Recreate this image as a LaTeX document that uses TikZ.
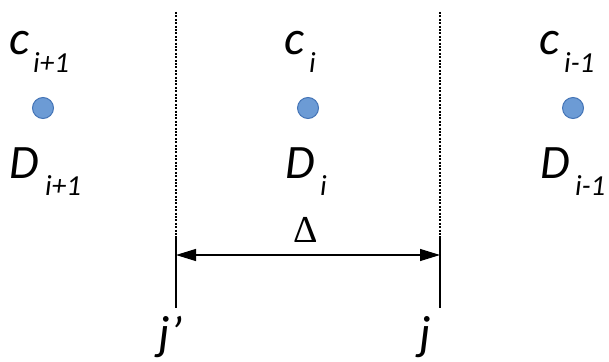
\documentclass[tikz,border=0pt]{standalone}
\usepackage{fontspec}
\setmainfont{Carlito}
\newfontfamily\deltafont{Liberation Serif}
\usetikzlibrary{arrows.meta}
\definecolor{dotfill}{RGB}{108,155,213}
\definecolor{dotedge}{RGB}{68,116,182}
\tikzset{
  big/.style={inner sep=0pt, anchor=base west, font=\fontsize{48}{48}\selectfont\itshape},
  sub/.style={inner sep=0pt, anchor=base west, font=\fontsize{29}{29}\selectfont\itshape},
  dotmark/.style={circle, fill=dotfill, draw=dotedge, line width=1pt, minimum size=21pt, inner sep=0pt},
  guide/.style={line width=1.1pt, dash pattern=on 2pt off 1.4pt},
  wall/.style={line width=1.1pt},
  span/.style={line width=1.2pt, {Triangle[length=20pt,width=12pt]}-{Triangle[length=20pt,width=12pt]}}
}
\begin{document}
\begin{tikzpicture}[x=1pt,y=-1pt]
\useasboundingbox (0,0) rectangle (609,361);
% left column
\node[big] (cL) at (9,54) {c};
\node[sub] (cLs) at (33,72) {i+1};
\node[dotmark] (dL) at (43,108) {};
\node[big] (DL) at (9,178) {D};
\node[sub] (DLs) at (45,195) {i+1};
% middle column
\node[big] (cM) at (284,54) {c};
\node[sub] (cMs) at (309,72) {i};
\node[dotmark] (dM) at (308,108) {};
\node[big] (DM) at (285,178) {D};
\node[sub] (DMs) at (320,195) {i};
% right column
\node[big] (cR) at (539,54) {c};
\node[sub] (cRs) at (564,72) {i-1};
\node[dotmark] (dR) at (573,108) {};
\node[big] (DR) at (540,178) {D};
\node[sub] (DRs) at (575,195) {i-1};
% vertical lines
\coordinate (aTop) at (176,12);
\coordinate (aMid) at (176,238);
\coordinate (aBot) at (176,308);
\coordinate (bTop) at (440,12);
\coordinate (bMid) at (440,238);
\coordinate (bBot) at (440,308);
\draw[guide] (aTop) -- (aMid);
\draw[wall] (aMid) -- (aBot);
\draw[guide] (bTop) -- (bMid);
\draw[wall] (bMid) -- (bBot);
% span arrow
\coordinate (sL) at (176,255);
\coordinate (sR) at (440,255);
\draw[span] (sL) -- (sR);
\node[inner sep=0pt, anchor=base, font=\fontsize{38}{38}\selectfont\deltafont] (delta) at (306,242) {Δ};
% bottom labels
\node[big] (jp) at (158,349) {j’};
\node[big] (j) at (419,349) {j};
\end{tikzpicture}
\end{document}
